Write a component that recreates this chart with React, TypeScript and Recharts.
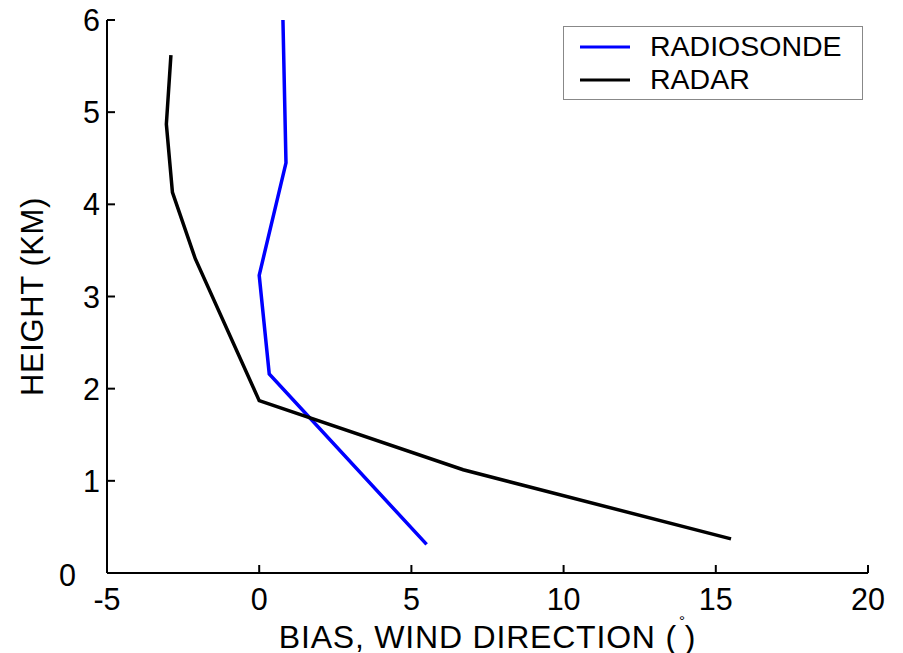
import { LineChart, Line, XAxis, YAxis, Legend, Label } from 'recharts';

// heights (km) and wind-direction bias (deg)
const radiosondeHeight = [0.31, 2.16, 3.23, 4.45, 6.0];
const radiosondeBias = [5.5, 0.33, 0.0, 0.88, 0.78];
const radarHeight = [0.37, 1.12, 1.87, 3.41, 4.13, 4.87, 5.62];
const radarBias = [15.5, 6.7, 0.0, -2.1, -2.85, -3.05, -2.9];

const xTicks = [-5, 0, 5, 10, 15, 20];
const yTicks = [0, 1, 2, 3, 4, 5, 6];
const legendOrder = ['RADIOSONDE', 'RADAR'];

const FONT = '"Liberation Sans", Arial, Helvetica, sans-serif';
const TICK_LEN = 8;

const radiosonde = radiosondeHeight.map((h, i) => ({ bias: radiosondeBias[i], height: h }));
const radar = radarHeight.map((h, i) => ({ bias: radarBias[i], height: h }));

const BottomTick = ({ x, y, payload }: any) => (
    <g>
        <line x1={x} y1={y} x2={x} y2={y - TICK_LEN} stroke="#000" strokeWidth={2} />
        <text x={x} y={y + 37} textAnchor="middle" fontSize={30.5} fontFamily={FONT} fill="#000">
            {payload.value}
        </text>
    </g>
);

const LeftTick = ({ x, y, payload }: any) => {
    // the zero label sits further left, down in the corner
    const isZero = payload.value === 0;
    return (
        <g>
            <line x1={x} y1={y} x2={x + TICK_LEN} y2={y} stroke="#000" strokeWidth={2} />
            <text
                x={isZero ? x - 31 : x - 7}
                y={isZero ? y + 13 : y + 11}
                textAnchor="end"
                fontSize={30.5}
                fontFamily={FONT}
                fill="#000"
            >
                {payload.value}
            </text>
        </g>
    );
};

const TopTick = ({ x, y }: any) => (
    <line x1={x} y1={y} x2={x} y2={y + TICK_LEN} stroke="#000" strokeWidth={2} />
);

const RightTick = ({ x, y }: any) => (
    <line x1={x} y1={y} x2={x - TICK_LEN} y2={y} stroke="#000" strokeWidth={2} />
);

const LegendBox = ({ payload }: any) => {
    const items = legendOrder
        .map((name) => (payload || []).find((p: any) => p.value === name))
        .filter(Boolean);
    return (
        <svg width={300} height={74} style={{ display: 'block' }}>
            <rect x={0.5} y={0.5} width={299} height={73} fill="#fff" stroke="#888" strokeWidth={1} />
            {items.map((entry: any, i: number) => {
                const cy = 21 + i * 33;
                return (
                    <g key={entry.value}>
                        <line x1={17} y1={cy} x2={67} y2={cy} stroke={entry.color} strokeWidth={3} />
                        <text x={87} y={cy + 9} fontSize={28.5} fontFamily={FONT} fill="#000">
                            {entry.value}
                        </text>
                    </g>
                );
            })}
        </svg>
    );
};

const App = () => {
    return (
        <div>
            <style>{'body{margin:0;background:#fff}'}</style>
            <LineChart width={903} height={653} margin={{ top: 20, right: 35, bottom: 0, left: 0 }}>
                <XAxis
                    dataKey="bias"
                    type="number"
                    domain={[-5, 20]}
                    ticks={xTicks}
                    interval={0}
                    height={80}
                    tickSize={0}
                    tickMargin={0}
                    tickLine={false}
                    tick={BottomTick}
                    axisLine={{ stroke: '#000', strokeWidth: 2 }}
                >
                    <Label
                        content={({ viewBox }: any) => (
                            <text
                                x={viewBox.x + viewBox.width / 2}
                                y={viewBox.y + 75}
                                textAnchor="middle"
                                fontSize={32}
                                fontFamily={FONT}
                                letterSpacing={0.8}
                                fill="#000"
                            >
                                BIAS, WIND DIRECTION (
                                <tspan fontSize={15} dy={-22} dx={2}>°</tspan>
                                <tspan dy={22} dx={-1}>)</tspan>
                            </text>
                        )}
                    />
                </XAxis>
                <XAxis
                    xAxisId="top"
                    dataKey="bias"
                    orientation="top"
                    type="number"
                    domain={[-5, 20]}
                    ticks={xTicks}
                    interval={0}
                    height={0}
                    tickSize={0}
                    tickMargin={0}
                    tickLine={false}
                    tick={TopTick}
                    axisLine={{ stroke: '#000', strokeWidth: 2 }}
                />
                <YAxis
                    type="number"
                    domain={[0, 6]}
                    ticks={yTicks}
                    interval={0}
                    width={107}
                    tickSize={0}
                    tickMargin={0}
                    tickLine={false}
                    tick={LeftTick}
                    axisLine={{ stroke: '#000', strokeWidth: 2 }}
                >
                    <Label
                        content={({ viewBox }: any) => {
                            const cx = 43;
                            const cy = viewBox.y + viewBox.height / 2;
                            return (
                                <text
                                    x={cx}
                                    y={cy}
                                    transform={`rotate(-90, ${cx}, ${cy})`}
                                    textAnchor="middle"
                                    fontSize={31}
                                    fontFamily={FONT}
                                    letterSpacing={0.6}
                                    fill="#000"
                                >
                                    HEIGHT (KM)
                                </text>
                            );
                        }}
                    />
                </YAxis>
                <YAxis
                    yAxisId="right"
                    orientation="right"
                    type="number"
                    domain={[0, 6]}
                    ticks={yTicks}
                    interval={0}
                    width={0}
                    tickSize={0}
                    tickMargin={0}
                    tickLine={false}
                    tick={RightTick}
                    axisLine={{ stroke: '#000', strokeWidth: 2 }}
                />
                <Legend
                    verticalAlign="middle"
                    align="center"
                    content={LegendBox}
                    wrapperStyle={{ left: 563, top: 26, width: 300, height: 74 }}
                />
                <Line
                    data={radiosonde}
                    dataKey="height"
                    name="RADIOSONDE"
                    stroke="#0000ff"
                    strokeWidth={3.5}
                    dot={false}
                    activeDot={false}
                    isAnimationActive={false}
                />
                {/* same domains as the bottom/left axes, attached so the top and right frame get drawn */}
                <Line
                    data={radar}
                    dataKey="height"
                    name="RADAR"
                    xAxisId="top"
                    yAxisId="right"
                    stroke="#000000"
                    strokeWidth={3.5}
                    dot={false}
                    activeDot={false}
                    isAnimationActive={false}
                />
            </LineChart>
        </div>
    );
};

export default App;
